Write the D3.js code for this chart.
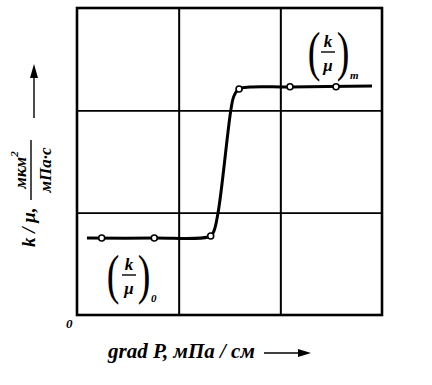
<!DOCTYPE html>
<html><head><meta charset="utf-8">
<script src="https://cdn.jsdelivr.net/npm/d3@7"></script>
<style>
body{margin:0;background:#fff;}
svg text{font-family:"Liberation Serif","Times New Roman",serif;font-style:italic;font-weight:bold;fill:#000;}
</style></head>
<body><svg id="c" width="432" height="385"></svg>
<script>
// curve shape (x, y in grid units, 0..3)
const curveX = [0.098, 0.757, 1.288, 1.338, 1.387, 1.515, 1.544, 1.593, 1.702, 2.095, 2.902];
const curveY = [0.752, 0.752, 0.762, 0.801, 0.997, 2.013, 2.140, 2.208, 2.228, 2.228, 2.238];
// measured points (open circles)
const markX = [0.243, 0.760, 1.315, 1.594, 2.095, 2.548];
const markY = [0.752, 0.752, 0.772, 2.208, 2.231, 2.231];
const gridTicks = [1, 2];
const xLabel = "grad P, мПа / см";
const yLabelMain = "k / μ,";
const yNum = "мкм";
const yDen = "мПа·с";

const svg = d3.select("#c");
const L = 77, R = 382, T = 8, B = 315;
const x = d3.scaleLinear().domain([0, 3]).range([L, R]);
const y = d3.scaleLinear().domain([0, 3]).range([B, T]);

// grid
svg.append("g").attr("transform", `translate(0,${B})`)
  .call(d3.axisBottom(x).tickValues(gridTicks).tickSize(-(B - T)).tickFormat(""))
  .call(g => g.select(".domain").remove())
  .call(g => g.selectAll("line").attr("stroke", "#000").attr("stroke-width", 2));
svg.append("g").attr("transform", `translate(${L},0)`)
  .call(d3.axisLeft(y).tickValues(gridTicks).tickSize(-(R - L)).tickFormat(""))
  .call(g => g.select(".domain").remove())
  .call(g => g.selectAll("line").attr("stroke", "#000").attr("stroke-width", 1.6));
// frame
svg.append("rect").attr("x", L).attr("y", T).attr("width", R - L).attr("height", B - T)
  .attr("fill", "none").attr("stroke", "#000").attr("stroke-width", 2.6);

// curve
const pts = curveX.map((v, i) => [v, curveY[i]]);
svg.append("path").datum(pts)
  .attr("d", d3.line().x(d => x(d[0])).y(d => y(d[1])).curve(d3.curveCatmullRom.alpha(0.5)))
  .attr("fill", "none").attr("stroke", "#000").attr("stroke-width", 3);
svg.selectAll("circle.m").data(markX.map((v, i) => [v, markY[i]])).join("circle")
  .attr("class", "m").attr("cx", d => x(d[0])).attr("cy", d => y(d[1])).attr("r", 3)
  .attr("fill", "#fff").attr("stroke", "#000").attr("stroke-width", 1.6);

// bracketed labels
function kmu(cx, cy, sub, lo, ro, sx, sy) {
  const g = svg.append("g").attr("transform", `translate(${cx},${cy})`);
  [["(", lo], [")", ro]].forEach(([ch, off]) => {
    g.append("g").attr("transform", `translate(${off},0) scale(1,1.45)`)
      .append("text").attr("x", 0).attr("y", 12).attr("text-anchor", "middle")
      .style("font-style", "normal").style("font-weight", "normal").style("font-size", "38px").text(ch);
  });
  g.append("text").attr("x", 0).attr("y", -6).attr("text-anchor", "middle").style("font-size", "17px").text("k");
  g.append("line").attr("x1", -7).attr("x2", 7).attr("y1", -1).attr("y2", -1).attr("stroke", "#000").attr("stroke-width", 1.4);
  g.append("text").attr("x", 0).attr("y", 18).attr("text-anchor", "middle").style("font-size", "17px").text("μ");
  g.append("text").attr("x", sx).attr("y", sy).style("font-size", "11px").text(sub);
}
kmu(129, 276, "0", -16, 15, 22, 26);
kmu(328, 53, "m", -14, 15, 22, 26);

// origin
svg.append("text").attr("x", 66).attr("y", 328).style("font-size", "13px").text("0");

// x label
svg.append("text").attr("x", 108).attr("y", 358).style("font-size", "21px").text(xLabel);
svg.append("line").attr("x1", 264).attr("x2", 300).attr("y1", 353).attr("y2", 353).attr("stroke", "#000").attr("stroke-width", 1.4);
svg.append("path").attr("d", "M311,353 L298,349 L298,357 Z").attr("fill", "#000");

// y label (rotated)
const yl = svg.append("g");
yl.append("text").attr("transform", "translate(35,247) rotate(-90)").style("font-size", "19px").text(yLabelMain);
const fr = yl.append("g").attr("transform", "translate(31,170) rotate(-90)");
fr.append("text").attr("x", 0).attr("y", -5).attr("text-anchor", "middle").style("font-size", "17px").text(yNum)
  .append("tspan").attr("dy", -8).style("font-size", "11px").text("2");
fr.append("line").attr("x1", -30).attr("x2", 30).attr("y1", 0).attr("y2", 0).attr("stroke", "#000").attr("stroke-width", 1.4);
fr.append("text").attr("x", 0).attr("y", 20).attr("text-anchor", "middle").style("font-size", "17px").text(yDen);
svg.append("line").attr("x1", 34).attr("x2", 34).attr("y1", 118).attr("y2", 76).attr("stroke", "#000").attr("stroke-width", 1.4);
svg.append("path").attr("d", "M34,64 L30,78 L38,78 Z").attr("fill", "#000");
</script></body></html>
